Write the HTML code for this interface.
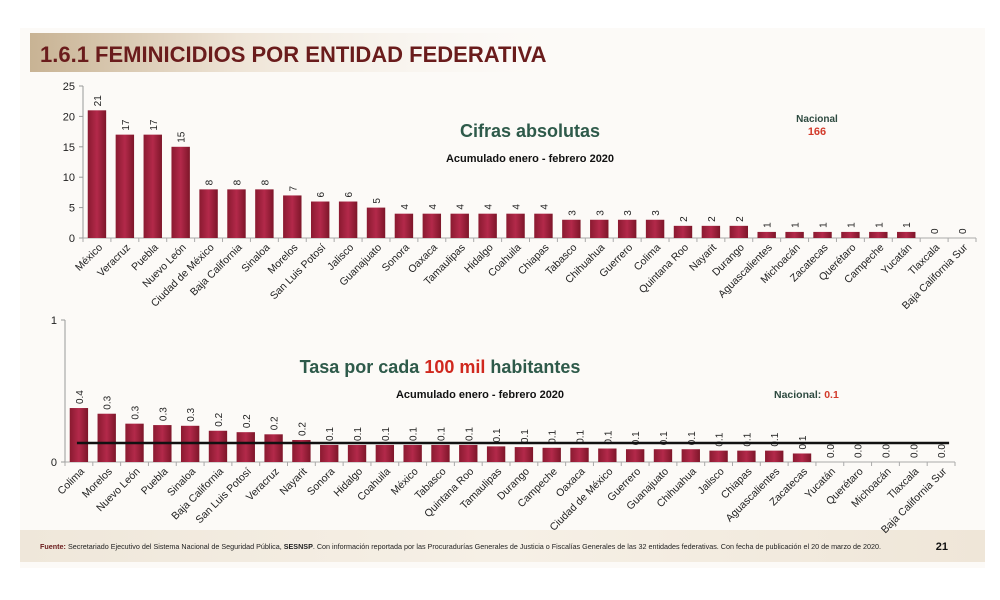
<!DOCTYPE html>
<html><head><meta charset="utf-8"><style>
body{margin:0;width:1000px;height:600px;background:#fff;overflow:hidden;font-family:"Liberation Sans",sans-serif}
svg{display:block}
</style></head><body>
<svg id="s" width="1000" height="600">
<defs>
<linearGradient id="tb" x1="0" x2="1"><stop offset="0" stop-color="#c8b394"/><stop offset="0.4" stop-color="#eee4d6"/><stop offset="1" stop-color="#faf7f2" stop-opacity="0"/></linearGradient>
<linearGradient id="fb" x1="0" x2="1"><stop offset="0" stop-color="#efe7da"/><stop offset="0.5" stop-color="#f6f0e6"/><stop offset="1" stop-color="#efe6d8"/></linearGradient>
<linearGradient id="bar" x1="0" x2="1"><stop offset="0" stop-color="#8a1a30"/><stop offset="0.5" stop-color="#b3294a"/><stop offset="1" stop-color="#7d1629"/></linearGradient>
</defs>
<rect x="20" y="28" width="965" height="540" fill="#fcfaf7"/>
<rect x="30" y="33" width="520" height="39" fill="url(#tb)"/>
<text x="40" y="62" font-family="Liberation Sans,sans-serif" font-weight="bold" font-size="22" fill="#6a1c1c">1.6.1 FEMINICIDIOS POR ENTIDAD FEDERATIVA</text>
<text x="530" y="137" text-anchor="middle" font-weight="bold" font-size="18" fill="#2e5a4a">Cifras absolutas</text>
<text x="530" y="162" text-anchor="middle" font-weight="bold" font-size="11" fill="#111">Acumulado enero - febrero 2020</text>
<text x="817" y="122" text-anchor="middle" font-weight="bold" font-size="10" fill="#2e4a40">Nacional</text>
<text x="817" y="135" text-anchor="middle" font-weight="bold" font-size="11" fill="#d23a2a">166</text>
<text x="440" y="373" text-anchor="middle" font-weight="bold" font-size="18" fill="#2e5a4a">Tasa por cada <tspan fill="#d0281e">100 mil</tspan> habitantes</text>
<text x="480" y="398" text-anchor="middle" font-weight="bold" font-size="11" fill="#111">Acumulado enero - febrero 2020</text>
<text x="774" y="398" font-weight="bold" font-size="10.5" fill="#2e4a40">Nacional: <tspan fill="#d23a2a">0.1</tspan></text>
<rect x="20" y="530" width="965" height="32" fill="url(#fb)"/>
<text x="40" y="549" font-size="7.2" fill="#222"><tspan font-weight="bold" fill="#6a1c1c">Fuente:</tspan> Secretariado Ejecutivo del Sistema Nacional de Seguridad Pública, <tspan font-weight="bold">SESNSP</tspan>. Con información reportada por las Procuradurías Generales de Justicia o Fiscalías Generales de las 32 entidades federativas. Con fecha de publicación el 20  de marzo de 2020.</text>
<text x="948" y="550" text-anchor="end" font-weight="bold" font-size="11" fill="#111">21</text>
<g id="top"></g><g id="bot"></g>
</svg>
<script>
const topCats=["México","Veracruz","Puebla","Nuevo León","Ciudad de México","Baja California","Sinaloa","Morelos","San Luis Potosí","Jalisco","Guanajuato","Sonora","Oaxaca","Tamaulipas","Hidalgo","Coahuila","Chiapas","Tabasco","Chihuahua","Guerrero","Colima","Quintana Roo","Nayarit","Durango","Aguascalientes","Michoacán","Zacatecas","Querétaro","Campeche","Yucatán","Tlaxcala","Baja California Sur"];
const topVals=[21,17,17,15,8,8,8,7,6,6,5,4,4,4,4,4,4,3,3,3,3,2,2,2,1,1,1,1,1,1,0,0];
const topTicks=[0,5,10,15,20,25];
const botCats=["Colima","Morelos","Nuevo León","Puebla","Sinaloa","Baja California","San Luis Potosí","Veracruz","Nayarit","Sonora","Hidalgo","Coahuila","México","Tabasco","Quintana Roo","Tamaulipas","Durango","Campeche","Oaxaca","Ciudad de México","Guerrero","Guanajuato","Chihuahua","Jalisco","Chiapas","Aguascalientes","Zacatecas","Yucatán","Querétaro","Michoacán","Tlaxcala","Baja California Sur"];
const botVals=[0.38,0.34,0.27,0.26,0.255,0.22,0.21,0.195,0.155,0.12,0.12,0.12,0.12,0.12,0.12,0.11,0.105,0.1,0.1,0.095,0.09,0.09,0.09,0.08,0.08,0.08,0.06,0,0,0,0,0];
const botLabels=["0.4","0.3","0.3","0.3","0.3","0.2","0.2","0.2","0.2","0.1","0.1","0.1","0.1","0.1","0.1","0.1","0.1","0.1","0.1","0.1","0.1","0.1","0.1","0.1","0.1","0.1","0.1","0.0","0.0","0.0","0.0","0.0"];
const botTicks=[0,1];
const nationalRate=0.134;
const NS="http://www.w3.org/2000/svg";
function mk(p,t,a){const e=document.createElementNS(NS,t);for(const k in a)e.setAttribute(k,a[k]);p.appendChild(e);return e;}
function chart(g,cats,vals,labels,ticks,o){
  const n=cats.length,step=(o.x1-o.x0)/n,max=ticks[ticks.length-1];
  const X=i=>o.x0+step*(i+0.5), Y=v=>o.y0-(v/max)*(o.y0-o.yTop);
  const ax=mk(g,"line",{x1:o.x0,y1:o.yTop,x2:o.x0,y2:o.y0,stroke:"#999","stroke-width":1});
  
  
  const bx=mk(g,"line",{x1:o.x0,y1:o.y0,x2:o.x1,y2:o.y0,stroke:"#aaa","stroke-width":1});
  
  
  ticks.forEach(t=>{
    mk(g,"line",{x1:o.x0-4,y1:Y(t),x2:o.x0,y2:Y(t),stroke:"#999"});
    const tl=mk(g,"text",{x:o.x0-8,y:Y(t)+4,"text-anchor":"end","font-size":11,fill:"#222"});tl.textContent=t;
    
    
  });
  for(let i=0;i<=n;i++)mk(g,"line",{x1:o.x0+step*i,y1:o.y0,x2:o.x0+step*i,y2:o.y0+4,stroke:"#aaa"});
  cats.forEach((c,i)=>{
    const v=vals[i],x=X(i),y=Y(v),w=step*0.66;
    if(v>0){const r=mk(g,"rect",{x:x-w/2,y:y,width:w,height:o.y0-y,fill:"url(#bar)"});
      
      }
    const vl=mk(g,"text",{x:0,y:0,"font-size":10,fill:"#222",transform:`translate(${x+4},${y-4}) rotate(-90)`});
    vl.textContent=labels[i];
    
    
    const cl=mk(g,"text",{x:0,y:0,"font-size":10.5,fill:"#222","text-anchor":"end",transform:`translate(${x+6},${o.y0+10}) rotate(-45)`});
    cl.textContent=c;
    
    
  });
  return {X,Y,step};
}
const t=chart(document.getElementById("top"),topCats,topVals,topVals.map(String),topTicks,{x0:83,x1:976,y0:238,yTop:86,name:"count"});
const b=chart(document.getElementById("bot"),botCats,botVals,botLabels,botTicks,{x0:65,x1:955,y0:462,yTop:320,name:"rate"});
const nl=mk(document.getElementById("bot"),"line",{x1:b.X(0)-2,y1:b.Y(nationalRate),x2:b.X(botCats.length-1)+8,y2:b.Y(nationalRate),stroke:"#111","stroke-width":2.5});


</script>
</body></html>
